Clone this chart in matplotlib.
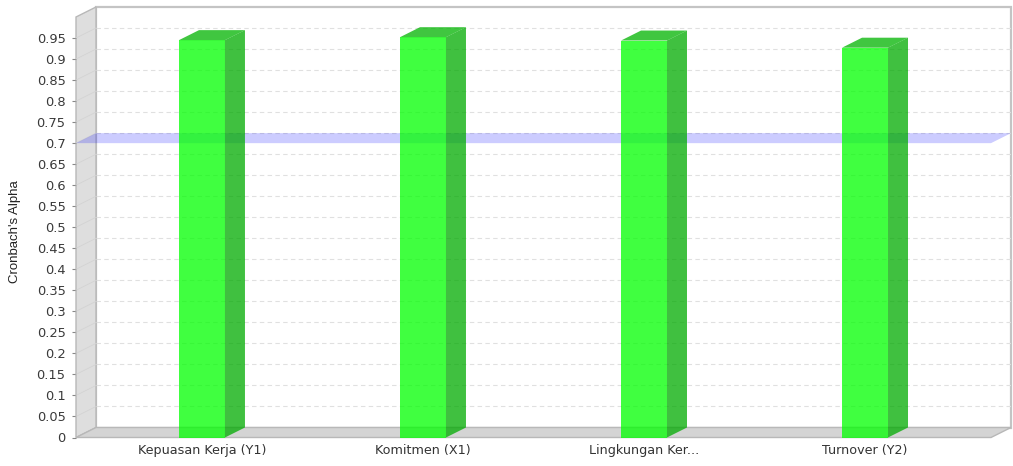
import numpy as np
import matplotlib
matplotlib.use('Agg')
import matplotlib.pyplot as plt
from matplotlib.patches import Polygon, Rectangle

categories = ['Kepuasan Kerja (Y1)', 'Komitmen (X1)', 'Lingkungan Ker...', 'Turnover (Y2)']
alpha_values = [0.945, 0.952, 0.944, 0.927]
threshold = 0.7
y_ticks = np.round(np.arange(0, 0.951, 0.05), 2)

W, H = 1013, 466
fig = plt.figure(figsize=(W / 100, H / 100), dpi=100)
fig.patch.set_facecolor('white')

# front face of the plot area in pixels
left_px, right_px, bottom_px, top_px = 76, 991, 437.5, 17
ax = fig.add_axes([left_px / W, (H - bottom_px) / H,
                   (right_px - left_px) / W, (bottom_px - top_px) / H])
ax.set_xlim(-0.57, 3.57)
ax.set_ylim(0, 1.0)
ax.set_facecolor('none')
for s in ax.spines.values():
    s.set_visible(False)

# 3D depth (20 px right, 10 px up) expressed in data units
x0, x1 = ax.get_xlim()
y0, y1 = ax.get_ylim()
dx = 20 * (x1 - x0) / (right_px - left_px)
dy = 10 * (y1 - y0) / (bottom_px - top_px)

wall_edge = '#b8b8b8'

# back wall
ax.add_patch(Rectangle((x0 + dx, y0 + dy), x1 - x0, y1 - y0, facecolor='white',
                       edgecolor='#c4c4c4', lw=1.6, clip_on=False, zorder=0))
# left wall
ax.add_patch(Polygon([(x0, y0), (x0, y1), (x0 + dx, y1 + dy), (x0 + dx, y0 + dy)],
                     closed=True, facecolor='#dedede', edgecolor=wall_edge, lw=1,
                     clip_on=False, zorder=1))
# floor
ax.add_patch(Polygon([(x0, y0), (x1, y0), (x1 + dx, y0 + dy), (x0 + dx, y0 + dy)],
                     closed=True, facecolor='#d4d4d4', edgecolor=wall_edge, lw=1,
                     clip_on=False, zorder=1))

# gridlines on the back wall and faint traces on the left wall
for v in y_ticks[1:]:
    ax.plot([x0 + dx, x1 + dx], [v + dy, v + dy], color='#e0e0e0', lw=0.8,
            ls=(0, (4, 3)), clip_on=False, zorder=2)
    ax.plot([x0, x0 + dx], [v, v + dy], color='#d3d3d3', lw=0.6,
            clip_on=False, zorder=2)

# threshold marker band
ax.add_patch(Polygon([(x0, threshold), (x1, threshold), (x1 + dx, threshold + dy),
                      (x0 + dx, threshold + dy)], closed=True, facecolor='#0000ff',
                     alpha=0.2, edgecolor='none', clip_on=False, zorder=3))

# 3D bars
bw = 0.208
for i, v in enumerate(alpha_values):
    l, r = i - bw / 2, i + bw / 2
    ax.add_patch(Rectangle((l, 0), bw, v, facecolor='#00ff00', alpha=0.75,
                           edgecolor='none', clip_on=False, zorder=5))
    ax.add_patch(Polygon([(r, 0), (r + dx, dy), (r + dx, v + dy), (r, v)], closed=True,
                         facecolor='#00ab00', alpha=0.75, edgecolor='none',
                         clip_on=False, zorder=5))
    ax.add_patch(Polygon([(l, v), (r, v), (r + dx, v + dy), (l + dx, v + dy)], closed=True,
                         facecolor='#00b400', alpha=0.75, edgecolor='none',
                         clip_on=False, zorder=5))

ax.set_yticks(y_ticks)
ax.set_yticklabels([f'{v:g}' for v in y_ticks], family='DejaVu Sans', fontsize=9.4,
                   color='#3a3a3a')
ax.tick_params(axis='y', length=3, width=0.8, color='#888888', pad=4.5)
ax.set_xticks(range(len(categories)))
ax.set_xticklabels(categories, family='DejaVu Sans', fontsize=9.2, color='#333333')
ax.tick_params(axis='x', length=0, pad=5)

fig.text(15 / W, 1 - 232 / H, "Cronbach's Alpha", rotation=90, ha='center', va='center',
         family='Liberation Sans', fontsize=9.5, color='#222222')

fig.savefig('out.png', dpi=100)
